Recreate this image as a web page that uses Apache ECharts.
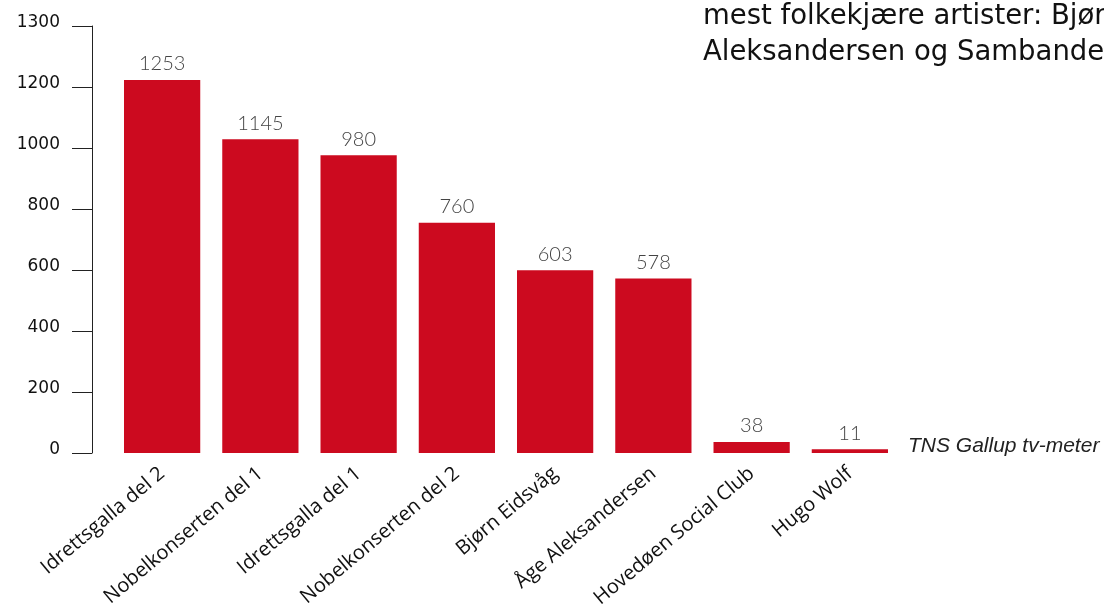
<!DOCTYPE html>
<html>
<head>
<meta charset="utf-8">
<script src="https://cdn.jsdelivr.net/npm/echarts@6/dist/echarts.min.js"></script>
<style>html,body{margin:0;padding:0;background:#fff;}#c{width:1104px;height:606px;}</style>
</head>
<body>
<div id="c"></div>
<script>
const categories = ["Idrettsgalla del 2","Nobelkonserten del 1","Idrettsgalla del 1","Nobelkonserten del 2","Bjørn Eidsvåg","Åge Aleksandersen","Hovedøen Social Club","Hugo Wolf"];
// bar heights as drawn in the picture
const barHeights = [1223, 1029, 976, 755, 599, 572, 36, 12];
// numbers printed above the bars
const valueLabels = ["1253","1145","980","760","603","578","38","11"];
const yTickLabels = ["0","200","400","600","800","1000","1200","1300"];
const titleLines = ["mest folkekjære artister: Bjørn Eidsvåg, Åge", "Aleksandersen og Sambandet"];
const sourceText = "TNS Gallup tv-meter";

const chart = echarts.init(document.getElementById('c'));
chart.setOption({
  animation: false,
  backgroundColor: '#fff',
  grid: { left: 113, right: 205, top: 26, bottom: 153, containLabel: false, outerBoundsMode: 'none' },
  xAxis: {
    type: 'category',
    data: categories,
    axisLine: { show: false },
    axisTick: { show: false },
    axisLabel: { rotate: 40, margin: 18, fontFamily: 'Open Sans', fontSize: 20, color: '#111', interval: 0 }
  },
  yAxis: {
    type: 'value',
    min: 0, max: 1400, interval: 200,
    offset: 21,
    splitLine: { show: false },
    axisLine: { show: true, lineStyle: { color: '#222', width: 1 } },
    axisTick: { show: true, inside: false, length: 20, lineStyle: { color: '#222', width: 1 } },
    axisLabel: {
      margin: 32, fontFamily: 'DejaVu Sans', fontSize: 17, color: '#111',
      verticalAlign: 'bottom', lineHeight: 7,
      formatter: function (v) { return yTickLabels[Math.round(v / 200)]; }
    }
  },
  series: [{
    type: 'bar',
    data: barHeights,
    barCategoryGap: '22.4%',
    itemStyle: { color: '#cc0a1f' },
    label: {
      show: true, position: 'top', distance: 6,
      fontFamily: 'Lato', fontWeight: 300, fontSize: 20, color: '#444',
      formatter: function (p) { return valueLabels[p.dataIndex]; }
    }
  }],
  graphic: [
    { type: 'text', left: 703, top: 3, style: { text: titleLines[0], fontFamily: 'DejaVu Sans', fontSize: 27.5, fill: '#111' } },
    { type: 'text', left: 703, top: 39, style: { text: titleLines[1], fontFamily: 'DejaVu Sans', fontSize: 27.5, fill: '#111' } },
    { type: 'text', left: 908, top: 436, style: { text: sourceText, fontFamily: 'Liberation Sans', fontStyle: 'italic', fontSize: 21, fill: '#222' } }
  ]
});
</script>
</body>
</html>
